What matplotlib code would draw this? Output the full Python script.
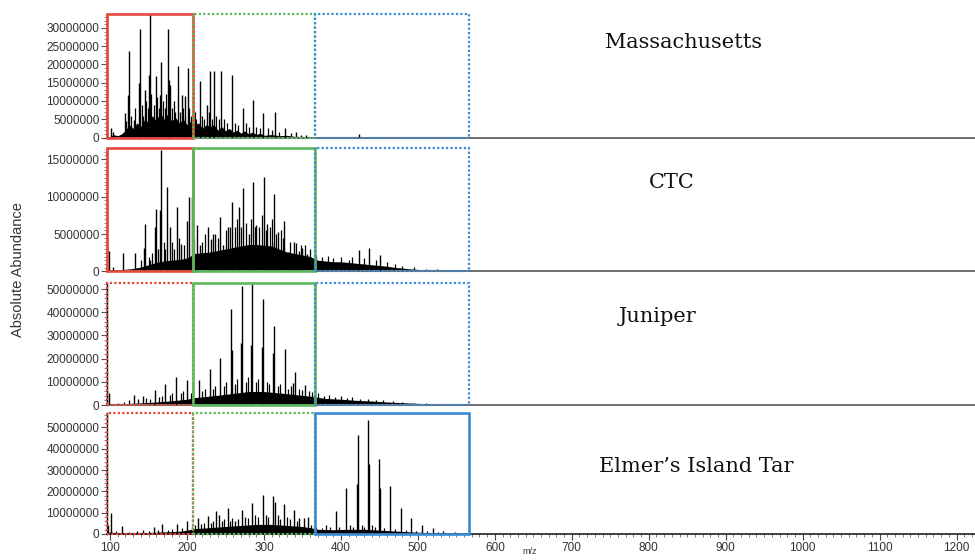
'''
Stacked mass spectra (4 samples) with the three m/z windows boxed.
Peak heights read off the scanned figure, abundances in millions.
'''
import numpy as np
import matplotlib
matplotlib.use('Agg')
import matplotlib.pyplot as plt
from matplotlib.patches import Rectangle
from matplotlib.ticker import MultipleLocator, AutoMinorLocator, StrMethodFormatter

# 1. Data (m/z, abundance in millions)

# --- Massachusetts ---
mass_peaks_mz = [101, 104, 119, 123, 124.6, 131, 137.5, 138.8, 145.7, 150.5, 151.7, 159.5,
                 165.5, 166.8, 175.5, 176.5, 178.5, 188.3, 193, 198, 201.8, 207.8, 216.4,
                 226, 230.3, 234.5, 244, 258.7, 272.5, 285.5, 299, 313.8, 326.8, 341, 354, 423]
mass_peaks_ab = [2.6, 1.4, 6.7, 11.7, 23.7, 4.9, 14.9, 29.6, 13, 17, 34, 16.8,
                 11.7, 20.6, 29.6, 15.8, 14.5, 19.5, 11.7, 11.3, 19, 13, 15.4,
                 9, 18.1, 18.1, 18.1, 17.2, 8, 10.4, 6.7, 7.1, 2.6, 1.6, 0.7, 1.0]
mass_minor_mz = [121, 127, 133, 141, 143, 147, 149, 153, 157, 161, 163, 169, 171, 173, 181,
                 183, 185, 191, 195, 197, 203, 205, 210, 212, 219, 222, 228, 232, 238, 241,
                 248, 252, 262, 266, 276, 280, 290, 295, 305, 310, 320, 335, 348]
mass_minor_ab = [4.5, 6, 8, 9, 6, 10, 8, 12, 9, 11, 8, 10, 8, 12, 8,
                 10, 7, 7, 8, 6, 8, 6, 7, 5, 6, 5, 7, 5, 6, 5,
                 5, 4, 4, 3.5, 4, 3, 3, 2.5, 2.5, 2, 1.5, 1.2, 0.8]
mass_env_mz = [96, 100, 104, 110, 115, 120, 125, 130, 135, 140, 145, 150, 155, 160, 165, 170,
               175, 180, 185, 190, 195, 200, 205, 210, 215, 220, 225, 230, 235, 240, 245, 250,
               255, 260, 265, 270, 275, 280, 285, 290, 295, 300, 310, 320, 330, 340, 350, 360,
               370, 400, 500, 600]
mass_env_ab = [0, 0.3, 0.8, 0.5, 1.0, 2.0, 3.5, 2.5, 4.0, 3.0, 5.0, 4.0, 6.0, 4.5, 7.0, 5.0,
               6.5, 4.5, 5.5, 4.0, 5.0, 3.5, 4.5, 3.5, 4.0, 2.5, 3.5, 3.0, 3.5, 2.0, 3.0, 1.8,
               2.5, 1.5, 2.0, 1.2, 1.8, 1.0, 1.5, 0.8, 1.2, 0.6, 0.8, 0.5, 0.6, 0.3, 0.3, 0.2,
               0.1, 0.05, 0.02, 0]

# --- CTC ---
ctc_peaks_mz = [99, 104, 117, 132, 144, 145.3, 152, 158, 159.5, 165.5, 166.8, 174.6, 178, 187,
                192, 200.5, 203, 207, 213, 217, 227, 231, 237, 243, 247, 253, 258, 268, 272.5,
                280, 285.5, 290, 299.6, 304, 312.6, 318, 326.4, 331, 338.5, 345, 350, 356,
                423, 437, 451]
ctc_peaks_ab = [2.8, 0.6, 2.5, 2.5, 3.1, 6.4, 1.5, 5.9, 8.4, 8.2, 16.2, 11.3, 5.9, 8.6,
                3.7, 6.8, 10, 9.9, 6.2, 3.5, 5.9, 4.4, 5.0, 7.3, 3.5, 5.9, 9.3, 8.6, 11.1,
                5.0, 12.0, 6.2, 12.6, 6.4, 10.4, 5.3, 6.8, 2.6, 3.9, 2.8, 3.2, 2.4,
                2.9, 3.1, 2.2]
ctc_minor_mz = [140, 150, 155, 162, 170, 172, 180, 183, 190, 196, 209, 220, 224, 234, 240, 250,
                256, 262, 265, 270, 276, 283, 288, 294, 297, 302, 308, 310, 315, 322, 325, 334,
                341, 348, 353, 360, 368, 375, 383, 390, 400, 410, 415, 430, 445, 460, 470, 480,
                495, 510, 525]
ctc_minor_ab = [1.5, 2, 2.5, 3, 4, 3, 4, 3, 4.5, 3.5, 4.5, 4, 5, 5, 4.5, 5.5,
                6, 6, 7, 6, 6.5, 7, 6, 6, 7.5, 5.5, 6, 7, 5, 5.5, 4.5, 4,
                3.8, 3.5, 3.5, 3.0, 2.2, 2.0, 2.1, 1.8, 1.9, 1.6, 2.0, 1.8, 1.5, 1.3, 1.0, 0.8,
                0.6, 0.4, 0.3]
ctc_env_mz = [96, 100, 110, 120, 130, 140, 150, 160, 170, 180, 190, 200, 210, 220, 230, 240,
              250, 260, 270, 280, 290, 300, 310, 320, 330, 340, 350, 360, 370, 380, 390, 400,
              410, 420, 430, 440, 450, 460, 470, 480, 490, 500, 510, 520, 530, 545, 560, 600]
ctc_env_ab = [0, 0.2, 0.2, 0.3, 0.4, 0.6, 0.9, 1.2, 1.4, 1.5, 1.6, 1.8, 2.4, 2.5, 2.6, 2.8,
              3.0, 3.2, 3.4, 3.6, 3.6, 3.5, 3.4, 3.0, 2.6, 2.4, 2.2, 2.0, 1.5, 1.4, 1.3, 1.3,
              1.2, 1.1, 1.0, 0.9, 0.8, 0.7, 0.55, 0.45, 0.35, 0.28, 0.2, 0.15, 0.1, 0.05, 0.02, 0]

# --- Juniper ---
jun_peaks_mz = [98.7, 131, 142.3, 158, 172, 186, 200, 215, 229.4, 242.3, 257.4, 258.5, 270,
                271, 283.5, 284.6, 298, 299.2, 312, 313.5, 326.8, 338, 340.6, 353.5]
jun_peaks_ab = [5, 4.3, 3.9, 6.5, 8.9, 12.2, 10.8, 10.8, 15.4, 20.1, 41.2, 23.7, 26.9,
                51.3, 25.8, 52.1, 25, 45.5, 22.3, 34.2, 24.1, 9.3, 14.4, 8.6]
jun_minor_mz = [110, 118, 125, 136, 147, 152, 163, 167, 178, 181, 192, 195, 205, 208, 220, 223,
                234, 237, 248, 251, 262, 265, 276, 279, 289, 292, 304, 307, 318, 321, 331, 335,
                345, 349, 358, 362, 370, 378, 385, 392, 400, 408, 415, 425, 435, 445, 455, 468,
                480, 495, 510, 525, 540, 555]
jun_minor_ab = [1.0, 1.5, 2, 2.5, 3, 2.5, 3.5, 4, 4.5, 5, 5, 6, 5, 7, 6, 7,
                7, 8, 8, 10, 9, 11, 10, 12, 10, 11, 10, 9, 8, 9, 7, 8,
                7, 6.5, 6, 5.5, 5, 4, 4.5, 3.5, 4, 3.2, 3.5, 2.8, 2.5, 2.2, 2.0, 1.6,
                1.3, 1.0, 0.8, 0.6, 0.4, 0.25]
jun_env_mz = [96, 100, 120, 140, 160, 180, 200, 210, 220, 240, 260, 280, 300, 320, 340, 360,
              380, 400, 420, 440, 460, 480, 500, 520, 540, 560, 580, 620]
jun_env_ab = [0, 0.5, 0.6, 0.9, 1.3, 1.8, 2.5, 3.2, 3.5, 4.2, 5.0, 5.8, 5.8, 5.2, 4.5, 3.8,
              2.8, 2.5, 2.0, 1.7, 1.3, 1.0, 0.7, 0.5, 0.3, 0.15, 0.05, 0]

# --- Elmer's Island Tar ---
elm_peaks_mz = [97, 101, 115, 143, 157, 167.7, 187, 200.5, 214, 227, 238, 241, 252.6, 262,
                271.6, 284.5, 298.4, 312, 314, 326.4, 339.3, 346, 352, 357.8, 393, 407, 421,
                422, 435.5, 436.5, 450, 451, 463.5, 477.7, 491.5, 505, 519, 533, 548]
elm_peaks_ab = [4.4, 9.9, 3.6, 2.0, 3.2, 4.9, 4.7, 6.3, 7.6, 8.4, 10.7, 8.8, 12, 6,
                11.5, 14.7, 18.1, 17.8, 15, 14.3, 11.5, 7.6, 7.6, 7.9, 10.7, 21.8, 23.3,
                46.5, 53.3, 32.8, 35.1, 21.8, 22.5, 12.3, 7.3, 4.4, 2.8, 1.6, 0.9]
elm_minor_mz = [108, 125, 135, 150, 162, 175, 180, 193, 206, 210, 218, 222, 231, 234, 245, 248,
                256, 259, 266, 275, 279, 288, 292, 302, 305, 318, 321, 330, 334, 343, 361, 368,
                375, 380, 386, 398, 412, 416, 427, 430, 441, 444, 456, 470, 484, 498, 512, 526,
                540, 555]
elm_minor_ab = [1.5, 1, 1.5, 1.5, 2, 2, 2.5, 3, 3.5, 4, 4.5, 5, 5, 6, 6, 7,
                6, 7.5, 7, 8, 7.5, 9, 8, 9, 8, 9, 7, 8, 7, 6, 4, 3.5,
                3, 4, 3.5, 3.5, 4, 3.5, 4, 3.5, 4, 3.5, 3, 2.5, 2, 1.5, 1.2, 0.8,
                0.6, 0.4]
elm_env_mz = [96, 100, 110, 130, 150, 170, 190, 200, 210, 230, 250, 270, 290, 310, 330, 350,
              360, 370, 390, 410, 430, 450, 470, 490, 510, 530, 550, 565, 580, 620]
elm_env_ab = [0.5, 1.0, 0.4, 0.5, 0.7, 1.0, 1.3, 1.8, 2.5, 3.0, 3.5, 4.0, 4.5, 4.5, 4.0, 3.5,
              3.0, 2.2, 2.0, 2.2, 2.2, 1.8, 1.4, 1.0, 0.7, 0.5, 0.3, 0.15, 0.05, 0]

sample_names = ['Massachusetts', 'CTC', 'Juniper', 'Elmer\u2019s Island Tar']
y_tops = [33.8, 16.47, 52.6, 56.8]          # millions, axis top
y_steps = [5, 5, 10, 10]                     # millions, major tick step
y_minor = [5, 10, 5, 5]

# m/z windows and which one is "solid" (highlighted) per sample
windows = [(96, 208), (208, 366), (366, 566)]
window_colors = ['#e8473d', '#5cb85c', '#3a8bd4']
solid_windows = [[True, False, False],
                 [True, True, False],
                 [False, True, False],
                 [False, False, True]]

panels = [
    (mass_peaks_mz, mass_peaks_ab, mass_minor_mz, mass_minor_ab, mass_env_mz, mass_env_ab),
    (ctc_peaks_mz, ctc_peaks_ab, ctc_minor_mz, ctc_minor_ab, ctc_env_mz, ctc_env_ab),
    (jun_peaks_mz, jun_peaks_ab, jun_minor_mz, jun_minor_ab, jun_env_mz, jun_env_ab),
    (elm_peaks_mz, elm_peaks_ab, elm_minor_mz, elm_minor_ab, elm_env_mz, elm_env_ab),
]

# 2. Layout (pixel rows from the reference, 975x560)
W, H = 975, 560
left_px, right_px = 107, 975
rows_px = [(14, 137.5), (148, 271.5), (283, 405), (413, 534)]
label_pos = [(684, 43), (672, 183), (658, 316), (696, 467)]

tick_font = 'Liberation Sans'
fig = plt.figure(figsize=(W / 100, H / 100), dpi=100)

for i, (pk_mz, pk_ab, mn_mz, mn_ab, env_mz, env_ab) in enumerate(panels):
    top_px, bot_px = rows_px[i]
    ax = fig.add_axes([left_px / W, 1 - bot_px / H,
                       (right_px - left_px) / W, (bot_px - top_px) / H])
    top = y_tops[i] * 1e6

    # dense background, then the minor and major peaks
    ax.fill_between(env_mz, np.array(env_ab) * 1e6, 0, color='black', lw=0, zorder=2)
    ax.vlines(mn_mz, 0, np.array(mn_ab) * 1e6, color='black', lw=0.9, zorder=2)
    ax.vlines(pk_mz, 0, np.array(pk_ab) * 1e6, color='black', lw=1.0, zorder=3)

    # windows: drawn red, green, blue so the later one sits on top at shared edges
    for (lo, hi), col, solid in zip(windows, window_colors, solid_windows[i]):
        if solid:
            rect = Rectangle((lo, 0), hi - lo, top, fill=False, edgecolor=col,
                             lw=1.9, linestyle='-', clip_on=False, zorder=5)
        else:
            rect = Rectangle((lo, 0), hi - lo, top, fill=False, edgecolor=col,
                             lw=1.6, linestyle=(0, (1, 1)), clip_on=False, zorder=5)
        ax.add_patch(rect)

    ax.set_xlim(96, 1224)
    ax.set_ylim(0, top)

    ax.spines['top'].set_visible(False)
    ax.spines['right'].set_visible(False)
    ax.spines['left'].set_color('black')
    ax.spines['left'].set_linewidth(1.0)

    ax.yaxis.set_major_locator(MultipleLocator(y_steps[i] * 1e6))
    ax.yaxis.set_minor_locator(AutoMinorLocator(y_minor[i]))
    ax.yaxis.set_major_formatter(StrMethodFormatter('{x:.0f}'))
    ax.tick_params(axis='y', which='major', length=4, width=0.8, color='#555555',
                   labelsize=8.5, labelcolor='#333333', pad=1.5)
    ax.tick_params(axis='y', which='minor', length=2.5, width=0.6, color='#777777')
    for lab in ax.get_yticklabels():
        lab.set_fontfamily(tick_font)

    if i < 3:
        ax.spines['bottom'].set_color('#6e6e6e')
        ax.spines['bottom'].set_linewidth(1.4)
        ax.set_xticks([])
    else:
        ax.spines['bottom'].set_color('#222222')
        ax.spines['bottom'].set_linewidth(1.2)
        ax.xaxis.set_major_locator(MultipleLocator(100))
        ax.xaxis.set_minor_locator(MultipleLocator(10))
        ax.tick_params(axis='x', which='major', length=4, width=0.8, color='#444444',
                       labelsize=8.5, labelcolor='#333333', pad=2)
        ax.tick_params(axis='x', which='minor', length=2.5, width=0.6, color='#666666')
        for lab in ax.get_xticklabels():
            lab.set_fontfamily(tick_font)

    lx, ly = label_pos[i]
    fig.text(lx / W, 1 - ly / H, sample_names[i], family='DejaVu Serif',
             fontsize=15, ha='center', va='center', color='#111111')

# 3. Axis titles
fig.text(18 / W, 1 - 270 / H, 'Absolute Abundance', rotation=90, ha='center', va='center',
         family=tick_font, fontsize=10.5, color='#333333')
fig.text(530 / W, 1 - 552 / H, 'm/z', ha='center', va='center', family=tick_font,
         fontsize=6.5, color='#333333')

plt.savefig('out.png', dpi=100)
